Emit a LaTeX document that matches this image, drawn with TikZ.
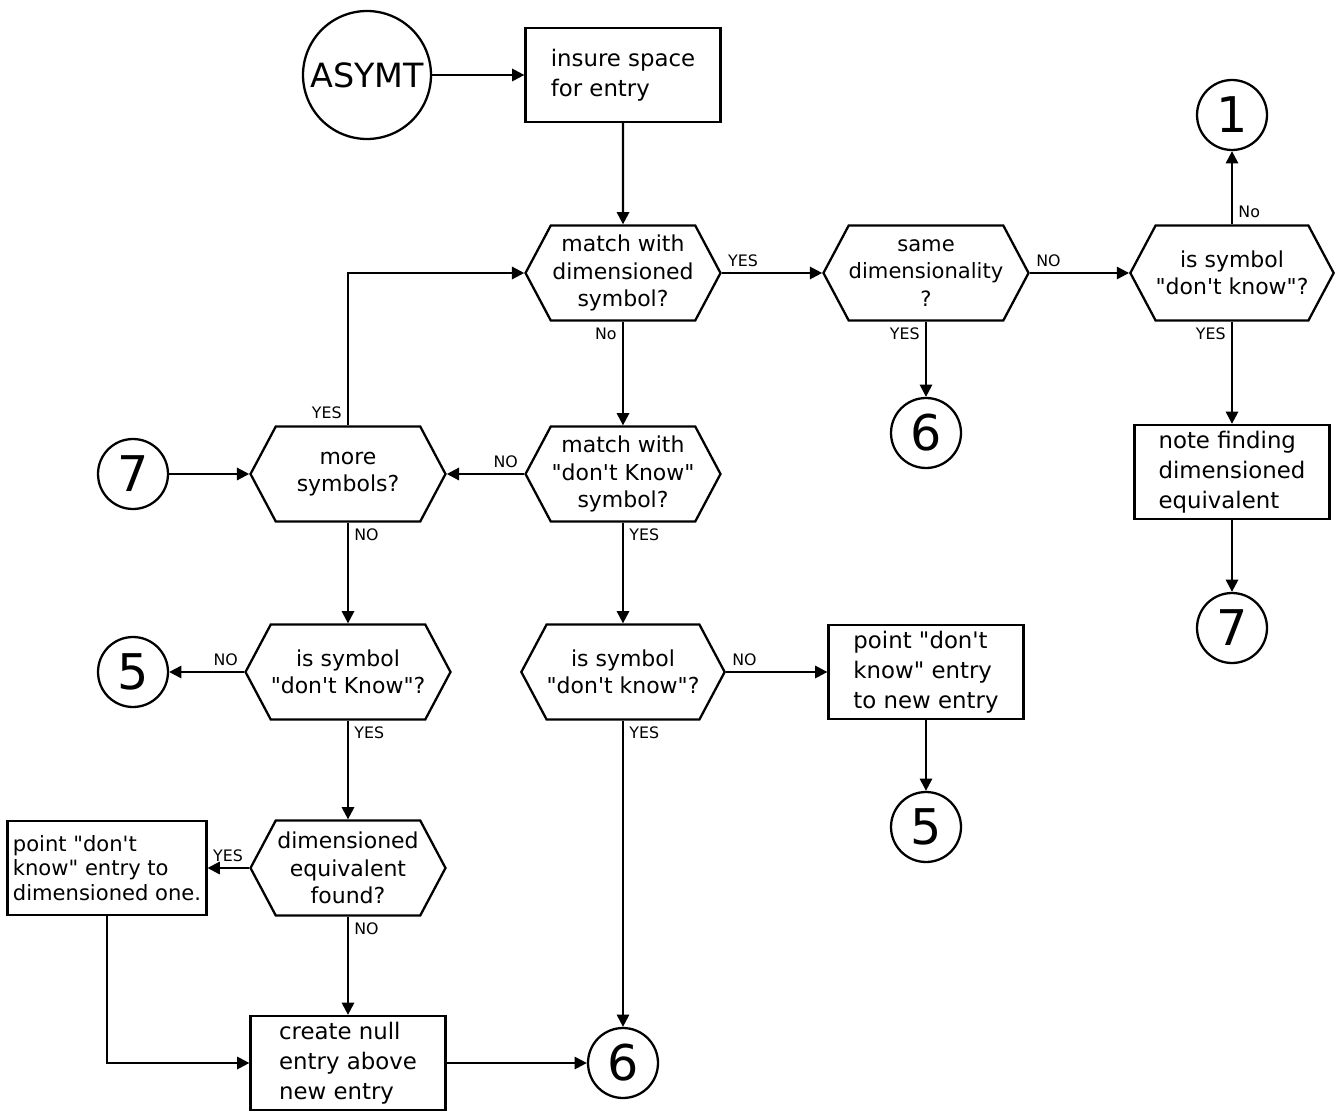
\documentclass[tikz,border=0pt]{standalone}
\usepackage{fontspec}
\setmainfont{DejaVu Sans}[Ligatures=TeXOff]
\usetikzlibrary{arrows.meta,shapes.symbols}

\begin{document}
\begin{tikzpicture}[x=0.02cm, y=-0.02cm, line width=1.3pt, >={Triangle[length=7pt,width=7pt]},
    proc/.style={draw, rectangle, minimum width=3.9cm, minimum height=1.88cm, align=left, font=\fontsize{13}{17}\selectfont, inner sep=3pt},
    test/.style={draw, signal, signal to=east and west, signal pointer angle=124, minimum width=3.9cm, minimum height=1.9cm, align=center, font=\fontsize{12.5}{15.5}\selectfont, inner xsep=0pt, inner ysep=1pt},
    conn/.style={draw, circle, minimum size=1.4cm, inner sep=0pt, font=\fontsize{28}{28}\selectfont},
    lbl/.style={font=\small, inner sep=3pt}]
        \useasboundingbox (0,0) rectangle (1338,1118);
        % top row
        \node[draw, circle, minimum size=2.56cm, inner sep=0pt, font=\fontsize{19}{19}\selectfont] (asymt) at (367,75) {ASYMT};
        \node[proc] (insure) at (623,75) {insure space\\for entry};
        \node[test] (qdim) at (623,273) {match with\\dimensioned\\symbol?};
        \node[test, font=\fontsize{12}{15.5}\selectfont] (qsame) at (926,273) {same\\dimensionality\\?};
        \node[test] (qdkr) at (1232,273) {is symbol\\"don't know"?};
        \node[conn] (c1) at (1232,115) {1};
        \node[conn] (c6a) at (926,433) {6};
        \node[proc] (note) at (1232,472) {note finding\\dimensioned\\equivalent};
        \node[conn] (c7r) at (1232,628) {7};
        % middle rows
        \node[conn] (c7l) at (133,474) {7};
        \node[test] (qmore) at (348,474) {more\\symbols?};
        \node[test] (qdkm) at (623,474) {match with\\"don't Know"\\symbol?};
        \node[conn] (c5l) at (133,672) {5};
        \node[test] (qsyml) at (348,672) {is symbol\\"don't Know"?};
        \node[test] (qsymm) at (623,672) {is symbol\\"don't know"?};
        \node[proc] (ptnew) at (926,672) {point "don't\\know" entry\\to new entry};
        \node[conn] (c5r) at (926,827) {5};
        % bottom rows
        \node[test] (qeq) at (348,868) {dimensioned\\equivalent\\found?};
        \node[proc, font=\large] (ptdim) at (107,868) {point "don't\\know" entry to\\dimensioned one.};
        \node[proc] (null) at (348,1063) {create null\\entry above\\new entry};
        \node[conn] (c6b) at (623,1063) {6};

        \draw[->] (asymt) -- (insure);
        \draw[->] (insure) -- (qdim);
        \draw[->] (qdim.east) -- node[lbl, pos=0, above right] {YES} (qsame.west);
        \draw[->] (qsame.east) -- node[lbl, pos=0, above right] {NO} (qdkr.west);
        \draw[->] (qdkr.north) -- node[lbl, pos=0, above right] {No} (c1);
        \draw[->] (qdkr.south) -- node[lbl, pos=0, below left] {YES} (note);
        \draw[->] (note) -- (c7r);
        \draw[->] (qsame.south) -- node[lbl, pos=0, below left] {YES} (c6a);
        \draw[->] (qdim.south) -- node[lbl, pos=0, below left] {No} (qdkm.north);
        \draw[->] (qdkm.west) -- node[lbl, pos=0, above left] {NO} (qmore.east);
        \draw[->] (qmore.north) |- node[lbl, pos=0, above left] {YES} (qdim.west);
        \draw[->] (c7l) -- (qmore.west);
        \draw[->] (qmore.south) -- node[lbl, pos=0, below right] {NO} (qsyml.north);
        \draw[->] (qsyml.west) -- node[lbl, pos=0, above left] {NO} (c5l);
        \draw[->] (qsyml.south) -- node[lbl, pos=0, below right] {YES} (qeq.north);
        \draw[->] (qeq.west) -- node[lbl, pos=0, above left] {YES} (ptdim.east);
        \draw[->] (qeq.south) -- node[lbl, pos=0, below right] {NO} (null.north);
        \draw[->] (ptdim.south) |- (null.west);
        \draw[->] (null.east) -- (c6b);
        \draw[->] (qdkm.south) -- node[lbl, pos=0, below right] {YES} (qsymm.north);
        \draw[->] (qsymm.east) -- node[lbl, pos=0, above right] {NO} (ptnew.west);
        \draw[->] (qsymm.south) -- node[lbl, pos=0, below right] {YES} (c6b.north);
        \draw[->] (ptnew.south) -- (c5r);
    \end{tikzpicture}
\end{document}
